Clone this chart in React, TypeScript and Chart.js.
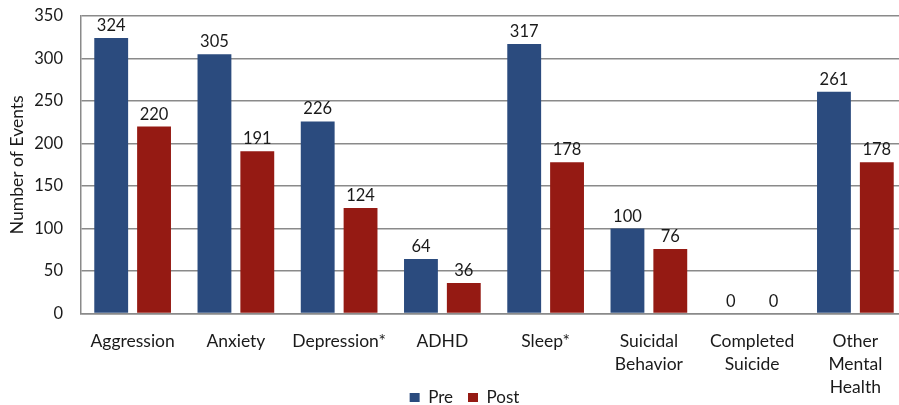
import React, { useEffect, useRef } from "react";
import { Chart, registerables } from "chart.js";

Chart.register(...registerables);

const categories: (string | string[])[] = [
  "Aggression",
  "Anxiety",
  "Depression*",
  "ADHD",
  "Sleep*",
  ["Suicidal", "Behavior"],
  ["Completed", "Suicide"],
  ["Other", "Mental", "Health"],
];
const preValues = [324, 305, 226, 64, 317, 100, 0, 261];
const postValues = [220, 191, 124, 36, 178, 76, 0, 178];
const seriesNames = ["Pre", "Post"];
const yTicks = { min: 0, max: 350, step: 50 };

const FONT = "Lato, 'Open Sans', sans-serif";
const BLUE = "#2b4b7e";
const RED = "#951a13";
const GRID = "#8a8a8a";
const TEXT = "#1a1a1a";

// Numbers printed above each bar
const valueLabels = {
  id: "valueLabels",
  afterDatasetsDraw(chart: Chart) {
    const ctx = chart.ctx;
    ctx.save();
    ctx.font = `16.5px ${FONT}`;
    ctx.fillStyle = TEXT;
    ctx.textAlign = "center";
    ctx.textBaseline = "bottom";
    chart.data.datasets.forEach((ds, di) => {
      const meta = chart.getDatasetMeta(di);
      meta.data.forEach((bar: any, i: number) => {
        const v = ds.data[i] as number;
        ctx.fillText(String(v), bar.x, bar.y - 4);
      });
    });
    ctx.restore();
  },
};

// Nudge the legend so it sits centred under the visible part of the plot
const legendShift = {
  id: "legendShift",
  afterLayout(chart: any) {
    const lg = chart.legend;
    if (!lg) return;
    lg.left += 11;
    lg.right += 11;
  },
};

export default function App() {
  const ref = useRef<HTMLCanvasElement>(null);

  useEffect(() => {
    if (!ref.current) return;
    const chart = new Chart(ref.current, {
      type: "bar",
      data: {
        labels: categories,
        datasets: [
          {
            label: seriesNames[0],
            data: preValues,
            backgroundColor: BLUE,
            categoryPercentage: 0.83,
            barPercentage: 0.79,
          },
          {
            label: seriesNames[1],
            data: postValues,
            backgroundColor: RED,
            categoryPercentage: 0.83,
            barPercentage: 0.79,
          },
        ],
      },
      options: {
        responsive: false,
        animation: false,
        devicePixelRatio: 1,
        layout: { padding: { top: 16, right: 3, left: 0, bottom: -11 } },
        plugins: {
          tooltip: { enabled: false },
          legend: {
            position: "bottom",
            labels: {
              boxWidth: 10,
              boxHeight: 9,
              padding: 15,
              color: TEXT,
              font: { family: FONT, size: 17 },
            },
          },
        },
        scales: {
          x: {
            grid: { display: false },
            border: { display: true, color: GRID, width: 1.5 },
            ticks: {
              color: TEXT,
              font: { family: FONT, size: 17.5, lineHeight: 1.33 },
              padding: 8,
              maxRotation: 0,
              autoSkip: false,
            },
            afterFit(scale: any) {
              scale.height = 60.5;
              // let the three-line label run below the axis box
              scale._computeLabelArea = () => undefined;
            },
          },
          y: {
            min: yTicks.min,
            max: yTicks.max,
            ticks: {
              stepSize: yTicks.step,
              color: TEXT,
              font: { family: FONT, size: 16.5 },
              padding: 18,
            },
            grid: { color: GRID, lineWidth: 1.5, drawTicks: false },
            border: { display: true, color: GRID, width: 1.5 },
            title: {
              display: true,
              text: "Number of Events",
              color: TEXT,
              font: { family: FONT, size: 17.5 },
              padding: { top: 7, bottom: 0 },
            },
            afterFit(scale: any) {
              scale.width = 81;
              scale.paddingTop = 0;
              scale.paddingBottom = 0;
            },
          },
        },
      },
      plugins: [valueLabels, legendShift],
    });
    return () => chart.destroy();
  }, []);

  return (
    <div
      style={{
        position: "absolute",
        left: 0,
        top: 0,
        width: 899,
        height: 405,
        overflow: "hidden",
        background: "#fff",
      }}
    >
      <canvas ref={ref} width={910} height={405} />
    </div>
  );
}
